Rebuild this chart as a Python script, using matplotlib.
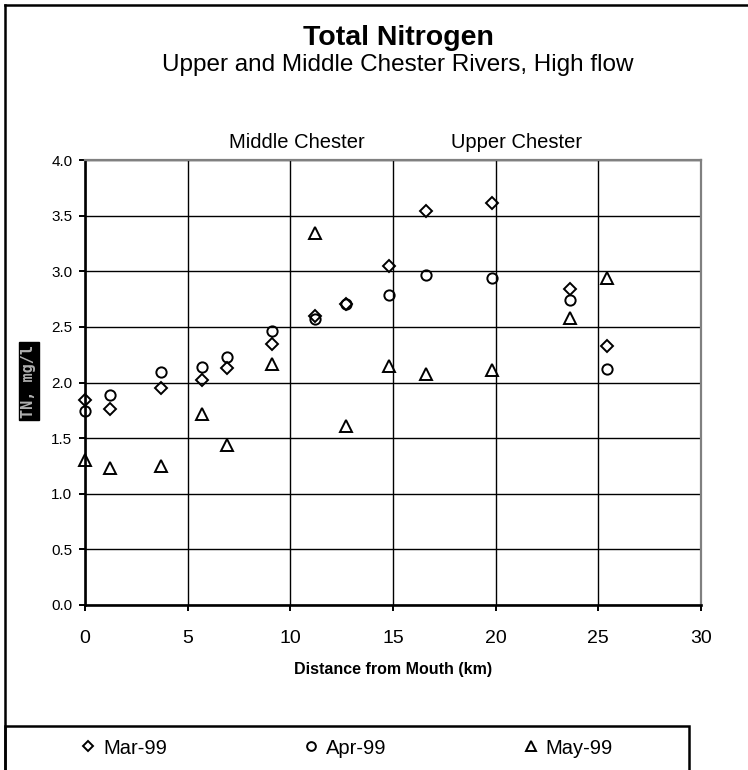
import matplotlib
matplotlib.use("Agg")
import matplotlib.pyplot as plt
from matplotlib.lines import Line2D
from matplotlib.patches import Rectangle

plt.rcParams['font.family'] = ['Liberation Sans', 'DejaVu Sans']

# ---- data ----
distance_km = [0.0, 1.2, 3.7, 5.7, 6.9, 9.1, 11.2, 12.7, 14.8, 16.6, 19.8, 23.6, 25.4]
mar_99 = [1.84, 1.76, 1.95, 2.02, 2.13, 2.35, 2.60, 2.71, 3.05, 3.54, 3.61, 2.84, 2.33]
apr_99 = [1.74, 1.89, 2.09, 2.14, 2.23, 2.46, 2.57, 2.71, 2.79, 2.97, 2.94, 2.74, 2.12]
may_99 = [1.30, 1.23, 1.25, 1.72, 1.44, 2.17, 3.34, 1.61, 2.15, 2.08, 2.11, 2.58, 2.94]
series_names = ['Mar-99', 'Apr-99', 'May-99']
x_ticks = [0, 5, 10, 15, 20, 25, 30]
y_ticks = [0.0, 0.5, 1.0, 1.5, 2.0, 2.5, 3.0, 3.5, 4.0]
y_tick_labels = ['0.0', '0.5', '1.0', '1.5', '2.0', '2.5', '3.0', '3.5', '4.0']

W, H = 748, 770
fig = plt.figure(figsize=(W / 100, H / 100), dpi=100)

def fx(px):
    return px / W

def fy(py):
    return 1 - py / H

ax = fig.add_axes([fx(85), fy(605), fx(701) - fx(85), fy(160) - fy(605)])
ax.set_xlim(0, 30)
ax.set_ylim(0, 4)
ax.set_xticks(x_ticks)
ax.set_xticklabels([str(t) for t in x_ticks], fontsize=14)
ax.set_yticks(y_ticks)
ax.set_yticklabels(y_tick_labels, fontsize=11)
ax.tick_params(axis='both', direction='out', length=4, width=1.4, color='black')
ax.tick_params(axis='x', pad=14)
ax.tick_params(axis='y', pad=5)
ax.grid(True, color='black', linewidth=1.0)
ax.set_axisbelow(True)
for s in ['left', 'bottom']:
    ax.spines[s].set_color('black')
    ax.spines[s].set_linewidth(1.9)
for s in ['top', 'right']:
    ax.spines[s].set_color('#808080')
    ax.spines[s].set_linewidth(1.6)

mk = dict(linestyle='none', markerfacecolor='none', markeredgecolor='black',
          markeredgewidth=1.4, clip_on=False, zorder=3)
h1, = ax.plot(distance_km, mar_99, marker='D', markersize=6.0, label=series_names[0], **mk)
h2, = ax.plot(distance_km, apr_99, marker='o', markersize=7.4, label=series_names[1], **mk)
h3, = ax.plot(distance_km, may_99, marker='^', markersize=8.2, label=series_names[2], **mk)

ax.set_xlabel('Distance from Mouth (km)', fontsize=11.5, fontweight='bold', labelpad=11)

fig.text(fx(29), fy(381), 'TN, mg/l', rotation=90, ha='center', va='center',
         fontsize=11, fontweight='bold', color='#b0b0b0', family='DejaVu Sans Mono',
         bbox=dict(facecolor='black', edgecolor='black', pad=2))

fig.text(fx(398), fy(45), 'Total Nitrogen', ha='center', va='baseline',
         fontsize=20.5, fontweight='bold')
fig.text(fx(398), fy(71), 'Upper and Middle Chester Rivers, High flow', ha='center',
         va='baseline', fontsize=17.5)
fig.text(fx(297), fy(148), 'Middle Chester', ha='center', va='baseline', fontsize=14.5)
fig.text(fx(517), fy(148), 'Upper Chester', ha='center', va='baseline', fontsize=14.5)

# outer chart frame (left and top edges visible)
fig.add_artist(Line2D([fx(5), fx(5)], [fy(5), -0.02], color='black', linewidth=1.8,
                      transform=fig.transFigure))
fig.add_artist(Line2D([fx(5), 1.02], [fy(5), fy(5)], color='black', linewidth=1.8,
                      transform=fig.transFigure))
# legend box
fig.add_artist(Rectangle((fx(5), fy(780)), fx(689) - fx(5), fy(726) - fy(780),
                         fill=False, edgecolor='black', linewidth=1.8,
                         transform=fig.transFigure))
fig.legend(handles=[h1, h2, h3], labels=series_names, ncol=3, frameon=False,
           loc='center', bbox_to_anchor=(fx(347), fy(748)), fontsize=14.5,
           handlelength=0.7, handletextpad=0.4, columnspacing=6.8, markerscale=0.85)

fig.savefig('out.png', dpi=100)
